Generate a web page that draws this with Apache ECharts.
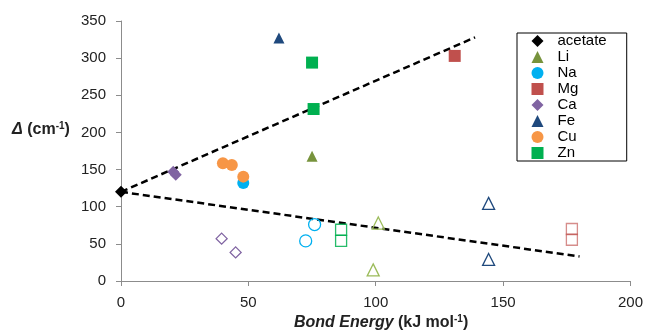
<!DOCTYPE html>
<html><head><meta charset="utf-8">
<script src="https://cdn.jsdelivr.net/npm/echarts@6/dist/echarts.min.js"></script>
<style>html,body{margin:0;padding:0;background:#fff}#c{width:646px;height:331px}</style>
</head><body><div id="c"></div>
<script>
// ---- data ----
const xTicks = [0, 50, 100, 150, 200];
const yTicks = [0, 50, 100, 150, 200, 250, 300, 350];
const acetate = [[0, 120]];
const liFilled = [[75, 168]];
const liHollow = [[101, 78], [99, 15]];
const naFilled = [[48, 132]];
const naHollow = [[72.5, 54], [76, 76]];
const mgFilled = [[131, 303]];
const mgHollow = [[177, 70], [177, 55.5]];
const caFilled = [[20.5, 147], [21.5, 143]];
const caHollow = [[39.5, 57], [45, 38.5]];
const feFilled = [[62, 327]];
const feHollow = [[144.3, 104.5], [144.3, 29]];
const cuFilled = [[40, 158.5], [43.5, 156], [48, 140.5]];
const znFilled = [[75, 294], [75.6, 231.5]];
const znHollow = [[86.4, 69], [86.4, 54]];
const upperLine = [[0, 120], [139, 328]];
const lowerLine = [[0, 120], [180, 33]];

const FONT = 'Liberation Sans, Arial, sans-serif';
const chart = echarts.init(document.getElementById('c'), null, {renderer: 'canvas'});

function filled(name, data, symbol, color, size) {
  return {name, type: 'scatter', data, symbol, symbolSize: size, z: 5,
    itemStyle: {color: color, opacity: 1}};
}
function hollow(name, data, symbol, color, size, op) {
  return {name, type: 'scatter', data, symbol, symbolSize: size, z: 4,
    itemStyle: {color: 'rgba(255,255,255,0)', borderColor: color, borderWidth: 1.3, opacity: op || 1}};
}
function dash(name, data) {
  return {name, type: 'line', data, symbol: 'none', z: 3, silent: true,
    lineStyle: {color: '#000', width: 2.5, type: [7, 4]}};
}

const legendNames = ['acetate', 'Li', 'Na', 'Mg', 'Ca', 'Fe', 'Cu', 'Zn'];
const titleRich = {
  bi: {fontFamily: FONT, fontSize: 16, fontWeight: 'bold', fontStyle: 'italic', fill: '#222'},
  b: {fontFamily: FONT, fontSize: 16, fontWeight: 'bold', fill: '#222'},
  s: {fontFamily: FONT, fontSize: 10, fontWeight: 'bold', fill: '#222', padding: [0, 0, 7, 0]}
};

chart.setOption({
  animation: false,
  grid: {left: 121, right: 15, top: 21, bottom: 50, containLabel: false},
  xAxis: {
    type: 'value', min: xTicks[0], max: xTicks[xTicks.length - 1], interval: 50,
    splitLine: {show: false},
    axisLine: {show: true, lineStyle: {color: '#8c8c8c', width: 1}},
    axisTick: {show: true, length: 5, lineStyle: {color: '#8c8c8c'}},
    axisLabel: {margin: 14, color: '#222', fontSize: 15, fontFamily: FONT}
  },
  yAxis: {
    type: 'value', min: yTicks[0], max: yTicks[yTicks.length - 1], interval: 50,
    splitLine: {show: false},
    axisLine: {show: true, lineStyle: {color: '#8c8c8c', width: 1}},
    axisTick: {show: true, length: 5, lineStyle: {color: '#8c8c8c'}},
    axisLabel: {margin: 15, color: '#222', fontSize: 15, fontFamily: FONT}
  },
  legend: {
    data: legendNames, orient: 'vertical', left: 517, top: 33,
    itemWidth: 12, itemHeight: 12, itemGap: 0,
    padding: [0, 20, 0, 14.5],
    borderColor: '#000', borderWidth: 1, backgroundColor: '#fff',
    textStyle: {fontSize: 15, fontFamily: FONT, color: '#000', lineHeight: 16, padding: [0, 0, 0, 9]},
    selectedMode: false
  },
  graphic: [
    {type: 'text', left: 12, top: 121, z: 10, style: {
      text: '{bi|Δ}{b| (cm}{s|-1}{b|)}', fill: '#222', rich: titleRich}},
    {type: 'text', left: 294, top: 314, z: 10, style: {
      text: '{bi|Bond Energy}{b| (kJ mol}{s|-1}{b|)}', fill: '#222', rich: titleRich}}
  ],
  series: [
    dash('upper', upperLine),
    dash('lower', lowerLine),
    hollow('Li_h', liHollow, 'triangle', '#9BBB59', 12),
    hollow('Na_h', naHollow, 'circle', '#00B0F0', 12),
    hollow('Mg_h', mgHollow, 'rect', '#C0504D', 11, 0.65),
    hollow('Ca_h', caHollow, 'diamond', '#8064A2', 11),
    hollow('Fe_h', feHollow, 'triangle', '#1F497D', 12),
    hollow('Zn_h', znHollow, 'rect', '#00B050', 11, 0.85),
    filled('acetate', acetate, 'diamond', '#000', 12),
    filled('Li', liFilled, 'triangle', '#77933C', 11),
    filled('Na', naFilled, 'circle', '#00B0F0', 12),
    filled('Mg', mgFilled, 'rect', '#C0504D', 12),
    filled('Ca', caFilled, 'diamond', '#8064A2', 12),
    filled('Fe', feFilled, 'triangle', '#1F497D', 11),
    filled('Cu', cuFilled, 'circle', '#F79646', 12),
    filled('Zn', znFilled, 'rect', '#00B050', 12)
  ]
});
</script></body></html>
